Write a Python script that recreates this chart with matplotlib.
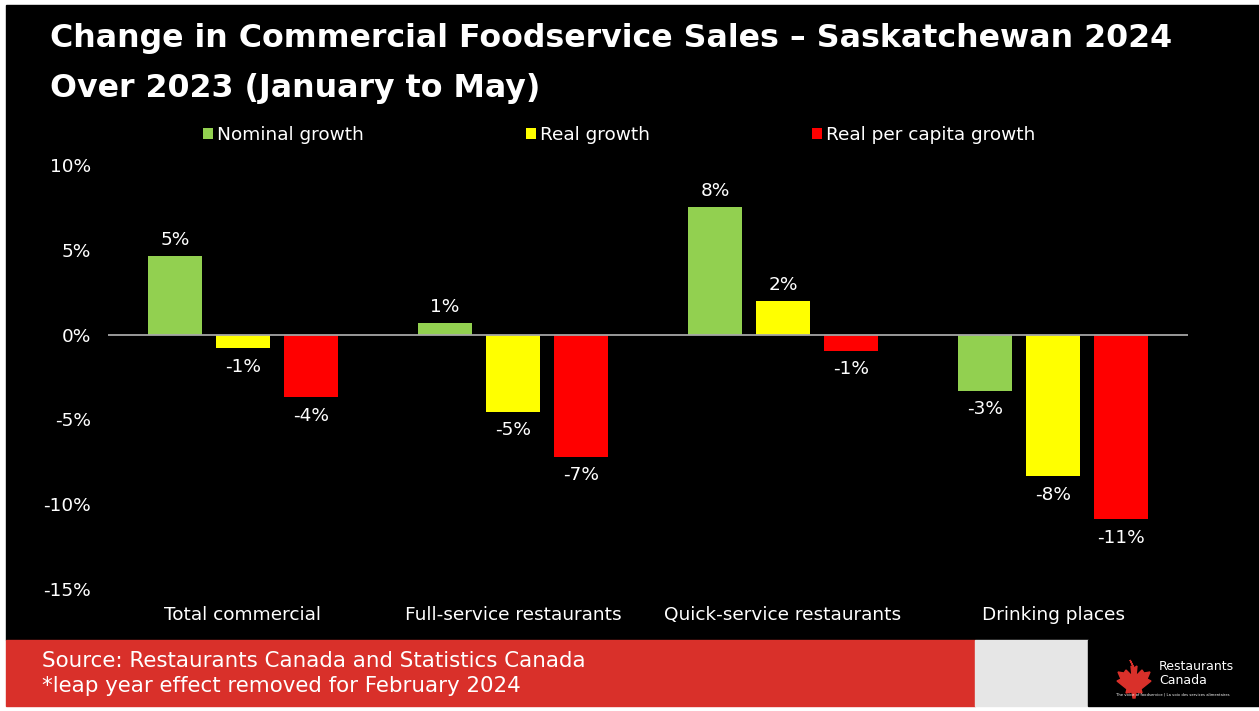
import matplotlib
matplotlib.use("Agg")
import matplotlib.pyplot as plt
from matplotlib.patches import Rectangle, Polygon
import numpy as np

categories = ["Total commercial", "Full-service restaurants",
              "Quick-service restaurants", "Drinking places"]
series_names = ["Nominal growth", "Real growth", "Real per capita growth"]
nominal = [4.65, 0.7, 7.5, -3.3]
real = [-0.8, -4.55, 2.0, -8.35]
per_capita = [-3.7, -7.2, -0.95, -10.9]
y_ticks = [10, 5, 0, -5, -10, -15]
colors = ["#92D050", "#FFFF00", "#FF0000"]

W, H = 1259, 711
fig = plt.figure(figsize=(W / 100, H / 100), dpi=100)
fig.patch.set_facecolor("white")
font = "DejaVu Sans"
fs = 13.3

def px(x0, y0, w, h):
    # figure-fraction rectangle from pixel coordinates (top-left origin)
    return [x0 / W, 1 - (y0 + h) / H, w / W, h / H]

# slide background and footer bands
bg = fig.add_axes([0, 0, 1, 1])
bg.set_xlim(0, W)
bg.set_ylim(H, 0)
bg.axis("off")
bg.add_patch(Rectangle((6, 5), W - 6, 635, color="black"))
bg.add_patch(Rectangle((6, 640), 969, 66, color="#D9302A"))
bg.add_patch(Rectangle((975, 640), 113, 66, color="#E6E6E6"))
bg.add_patch(Rectangle((1088, 640), W - 1088, 66, color="black"))

# maple-leaf style mark for the logo
leaf = np.array([
    (1130, 660), (1134, 668), (1137, 666), (1136, 676), (1142, 670),
    (1144, 673), (1150, 672), (1147, 679), (1151, 681), (1141, 689),
    (1142, 693), (1136, 692), (1135, 698), (1133, 698), (1132, 692),
    (1126, 693), (1127, 689), (1117, 681), (1121, 679), (1118, 672),
    (1124, 673), (1126, 670), (1132, 676), (1131, 666), (1134, 668),
])
bg.add_patch(Polygon(leaf, closed=True, color="#D9302A"))
bg.text(1159, 667, "Restaurants", color="white", fontsize=9, family=font,
        fontweight="medium", va="center", ha="left")
bg.text(1159, 681, "Canada", color="white", fontsize=9, family=font,
        fontweight="medium", va="center", ha="left")
bg.text(1173, 694, "The voice of foodservice | La voix des services alimentaires",
        color="white", fontsize=2.7, family=font, va="center", ha="center")

# title
bg.text(50, 38, "Change in Commercial Foodservice Sales \u2013 Saskatchewan 2024",
        color="white", fontsize=22.8, fontweight="bold", family=font, va="center")
bg.text(50, 88, "Over 2023 (January to May)",
        color="white", fontsize=22.8, fontweight="bold", family=font, va="center")

# footer notes
bg.text(42, 661, "Source: Restaurants Canada and Statistics Canada",
        color="white", fontsize=15.4, family=font, va="center")
bg.text(42, 686, "*leap year effect removed for February 2024",
        color="white", fontsize=15.4, family=font, va="center")

# chart
ax = fig.add_axes(px(108, 165, 1080, 424))
ax.set_facecolor("none")
x = np.arange(len(categories))
bw = 0.2
step = 0.252
bars = []
for i, (vals, c, name) in enumerate(zip([nominal, real, per_capita], colors, series_names)):
    b = ax.bar(x + (i - 1) * step, vals, width=bw, color=c, label=name,
               edgecolor="none", zorder=2)
    bars.append(b)
    for xi, v in zip(x + (i - 1) * step, vals):
        off = 5 if v >= 0 else -7
        ax.annotate(f"{v:.0f}%", (xi, v), xytext=(0, off),
                    textcoords="offset points", ha="center",
                    va="bottom" if v >= 0 else "top",
                    color="white", fontsize=fs, family=font)

ax.axhline(0, color="#A6A6A6", lw=1.3, zorder=3)
ax.set_xlim(-0.5, len(categories) - 0.5)
ax.set_ylim(-15, 10)
ax.set_yticks(y_ticks)
ax.set_yticklabels([f"{t}%" for t in y_ticks])
ax.set_xticks(x)
ax.set_xticklabels(categories)
ax.tick_params(axis="both", length=0, colors="white", labelsize=fs)
ax.tick_params(axis="y", pad=12)
ax.tick_params(axis="x", pad=12.5)
for lab in ax.get_xticklabels() + ax.get_yticklabels():
    lab.set_family(font)
for s in ax.spines.values():
    s.set_visible(False)

leg = fig.legend(handles=bars, labels=series_names, ncol=3,
                 loc="center left", bbox_to_anchor=(203 / W, 1 - 135 / H),
                 frameon=False, labelcolor="white",
                 handlelength=0.55, handleheight=0.55, handletextpad=0.22,
                 columnspacing=8.75, borderaxespad=0, borderpad=0,
                 prop={"family": font, "size": fs})

fig.savefig("out.png", dpi=100, facecolor=fig.get_facecolor())
